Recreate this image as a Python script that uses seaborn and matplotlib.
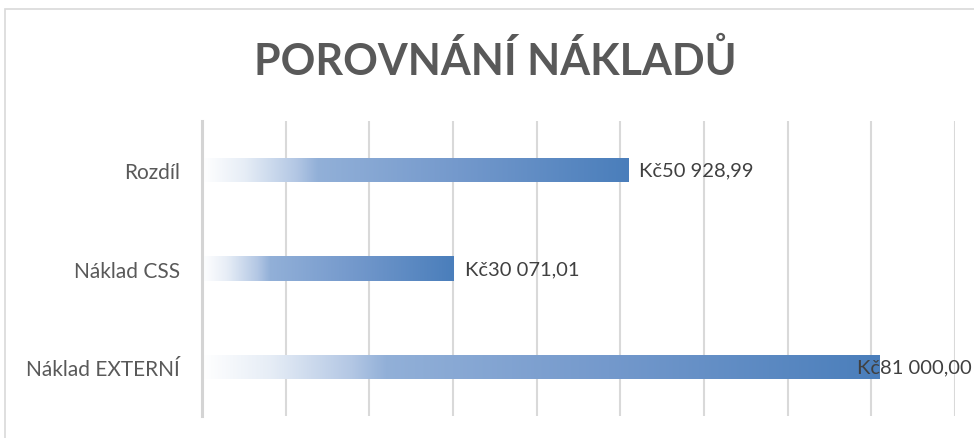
import numpy as np
import matplotlib
matplotlib.use('Agg')
import matplotlib.pyplot as plt
import seaborn as sns
from matplotlib.colors import LinearSegmentedColormap
from matplotlib.patches import Rectangle

# ── data ─────────────────────────────────────────────
categories = ["Rozdíl", "Náklad CSS", "Náklad EXTERNÍ"]
values = [50928.99, 30071.01, 81000.00]
x_ticks = [0, 10000, 20000, 30000, 40000, 50000, 60000, 70000, 80000, 90000]
title = "POROVNÁNÍ NÁKLADŮ"


def czk(v):
    s = f"{v:,.2f}"
    s = s.replace(",", " ").replace(".", ",")
    return "Kč" + s


sns.set_theme(style="white")
plt.rcParams['font.family'] = ['Lato', 'DejaVu Sans']

fig = plt.figure(figsize=(9.74, 4.39), dpi=100)
ax = fig.add_axes([202 / 974, 1 - 417 / 439, (955 - 202) / 974, (417 - 122) / 439])

sns.barplot(x=values, y=categories, orient='h', width=0.245, ax=ax,
            color="#4a7ebb", saturation=1)

# gradient fill white -> blue, stretched over each bar
grad = LinearSegmentedColormap.from_list(
    "bar", [(0.0, "#ffffff"), (0.10, "#e6edf6"), (0.22, "#b3c7e4"),
            (0.27, "#92b0d8"), (0.60, "#7499cc"), (1.0, "#4a7ebb")])
ramp = np.linspace(0, 1, 256).reshape(1, -1)
for p in ax.patches:
    x0, y0 = p.get_x(), p.get_y()
    w, h = p.get_width(), p.get_height()
    im = ax.imshow(ramp, cmap=grad, aspect='auto', extent=[x0, x0 + w, y0 + h, y0],
                   zorder=2, interpolation='bilinear')
    im.set_clip_path(p)
    p.set_facecolor("none")
    p.set_edgecolor("none")

ax.set_xlim(0, 90000)
ax.set_ylim(2.5, -0.5)
ax.set_xticks(x_ticks)
ax.set_xticklabels([])
ax.grid(axis='x', color="#d9d9d9", lw=1.5)
ax.set_axisbelow(True)
for s in ["top", "right", "bottom"]:
    ax.spines[s].set_visible(False)
ax.spines["left"].set_color("#d4d4d4")
ax.spines["left"].set_linewidth(2.2)
ax.tick_params(axis='y', length=0, pad=16, labelsize=15, labelcolor="#595959")
ax.tick_params(axis='x', length=0)
ax.set_xlabel("")
ax.set_ylabel("")

# data labels: outside end, except the longest bar which sits over its end
for p, v in zip(ax.patches, values):
    yc = p.get_y() + p.get_height() / 2
    dx = 8 if v < 80000 else -16
    ax.annotate(czk(v), (p.get_x() + p.get_width(), yc), xytext=(dx, 0),
                textcoords='offset points', va='center', ha='left',
                fontsize=14.5, color="#404040", zorder=5, annotation_clip=False)

fig.text(0.509, 1 - 61 / 439, title, ha='center', va='center',
         fontsize=31, fontweight='bold', color="#595959")

# chart frame
fig.patches.append(Rectangle((5 / 974, -0.1), 1.2, 1 - 10 / 439 + 0.1,
                             transform=fig.transFigure, fill=False,
                             edgecolor="#d9d9d9", lw=1.2))

fig.savefig("out.png", dpi=100)
